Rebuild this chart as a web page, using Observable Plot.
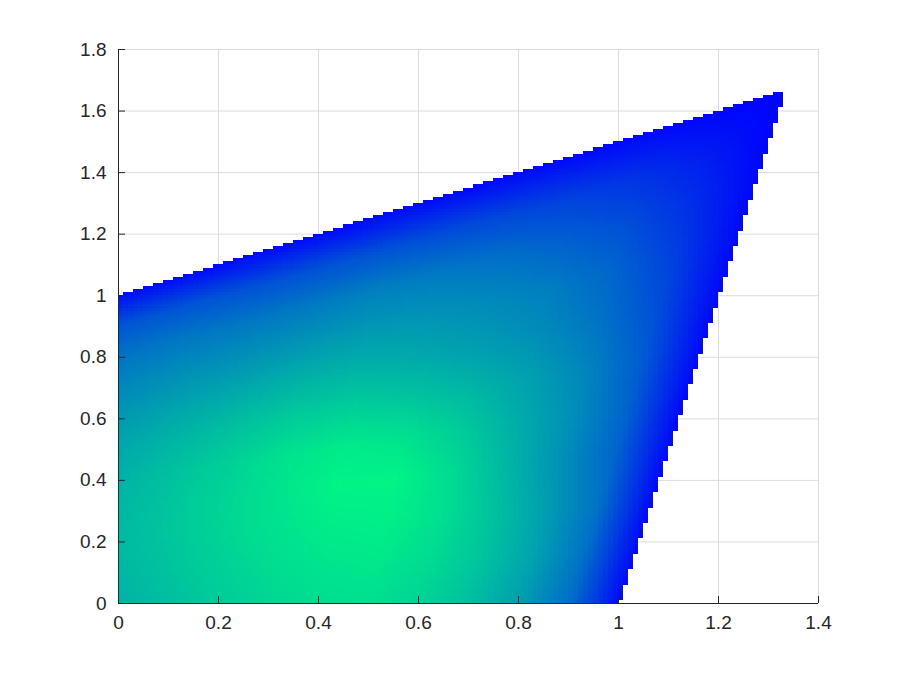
<!DOCTYPE html>
<html>
<head>
<meta charset="utf-8">
<script src="https://cdn.jsdelivr.net/npm/d3@7"></script>
<script src="https://cdn.jsdelivr.net/npm/@observablehq/plot@0.6"></script>
<style>
  body { margin: 0; background: #fff; }
  #chart svg { display: block; }
</style>
</head>
<body>
<div id="chart"></div>
<script>
// Tick labels
const xTicks = [0, 0.2, 0.4, 0.6, 0.8, 1, 1.2, 1.4];
const yTicks = [0, 0.2, 0.4, 0.6, 0.8, 1, 1.2, 1.4, 1.6, 1.8];

// Corners of the plotted quadrilateral domain (x, y), counter-clockwise
const cornerX = [0, 1, 1.33, 0];
const cornerY = [0, 0, 1.66, 1];

// Grid spacing of the surface cells (data units)
const cellStep = 0.01;

// Sampled colour values (0 = blue, 1 = green) read from the picture,
// on the domain's own coordinates: columns u = 0..1 (left edge -> right edge),
// one array per row v = 0..1 (bottom edge -> top edge)
const uLevels = [0, 0.1, 0.2, 0.3, 0.4, 0.5, 0.6, 0.7, 0.8, 0.9, 1];
const vLevels = [0, 0.1, 0.2, 0.3, 0.4, 0.5, 0.6, 0.7, 0.8, 0.9, 1];
const tV00 = [0.70, 0.75, 0.80, 0.84, 0.87, 0.88, 0.83, 0.75, 0.62, 0.43, 0.03];
const tV01 = [0.72, 0.77, 0.82, 0.87, 0.90, 0.91, 0.86, 0.77, 0.64, 0.44, 0.03];
const tV02 = [0.73, 0.78, 0.84, 0.89, 0.93, 0.94, 0.88, 0.76, 0.62, 0.44, 0.03];
const tV03 = [0.72, 0.78, 0.84, 0.90, 0.96, 0.96, 0.86, 0.72, 0.57, 0.40, 0.03];
const tV04 = [0.70, 0.76, 0.82, 0.89, 0.92, 0.89, 0.80, 0.68, 0.56, 0.38, 0.03];
const tV05 = [0.66, 0.71, 0.76, 0.80, 0.81, 0.77, 0.71, 0.63, 0.52, 0.35, 0.03];
const tV06 = [0.60, 0.64, 0.67, 0.70, 0.70, 0.66, 0.61, 0.55, 0.45, 0.30, 0.03];
const tV07 = [0.53, 0.56, 0.57, 0.59, 0.60, 0.58, 0.54, 0.49, 0.40, 0.25, 0.03];
const tV08 = [0.45, 0.47, 0.47, 0.48, 0.50, 0.48, 0.44, 0.38, 0.31, 0.19, 0.03];
const tV09 = [0.33, 0.33, 0.32, 0.32, 0.32, 0.30, 0.28, 0.25, 0.20, 0.12, 0.02];
const tV10 = [0.03, 0.03, 0.03, 0.03, 0.03, 0.03, 0.03, 0.03, 0.03, 0.02, 0.02];

const tRows = [tV00, tV01, tV02, tV03, tV04, tV05, tV06, tV07, tV08, tV09, tV10];

// Map (x, y) back to the domain's (u, v) coordinates (bilinear quadrilateral)
const ax = cornerX[2] - cornerX[1]; // extra x at top-right vs bottom-right
const cy = cornerY[2] - cornerY[3]; // extra y at top-right vs top-left
function toUV(x, y) {
  const a = ax / cornerY[3];
  const B = 1 + cy * x - a * y;
  const v = (-B + Math.sqrt(B * B + 4 * a * y)) / (2 * a);
  const u = x / (cornerX[1] + a * v);
  return [u, v];
}
function sample(u, v) {
  const n = uLevels.length - 1, m = vLevels.length - 1;
  const fu = u * n, fv = v * m;
  const i = Math.min(Math.floor(fu), n - 1), j = Math.min(Math.floor(fv), m - 1);
  const du = fu - i, dv = fv - j;
  const r0 = tRows[j], r1 = tRows[j + 1];
  return (1 - du) * (1 - dv) * r0[i] + du * (1 - dv) * r0[i + 1] +
         (1 - du) * dv * r1[i] + du * dv * r1[i + 1];
}

const cells = [];
const nx = Math.round(d3.max(cornerX) / cellStep) + 1;
const ny = Math.round(d3.max(cornerY) / cellStep) + 1;
for (let i = 0; i < nx; i++) {
  for (let j = 0; j < ny; j++) {
    const x = i / 100, y = j / 100;
    const [u, v] = toUV(x, y);
    if (u >= 0 && u < 1 - 1e-9 && v >= 0 && v < 1 - 1e-9) {
      cells.push({x1: x, x2: x + cellStep, y1: y, y2: y + cellStep, t: sample(u, v)});
    }
  }
}

const W = 904, H = 677;
const mL = 118, mR = 86, mT = 49, mB = 74;
const frameW = W - mL - mR, frameH = H - mT - mB;
const tickLen = 7;
const ink = "#262626";

const chart = Plot.plot({
  width: W,
  height: H,
  marginLeft: mL,
  marginRight: mR,
  marginTop: mT,
  marginBottom: mB,
  x: {domain: [0, 1.4]},
  y: {domain: [0, 1.8]},
  color: {type: "linear", domain: [0, 1], range: ["#0000ff", "#00ff80"], interpolate: "rgb"},
  style: {fontFamily: "'Liberation Sans', Arial, Helvetica, sans-serif", fontSize: "19px", color: ink, background: "#fff"},
  marks: [
    Plot.gridX(xTicks, {stroke: "#dcdcdc", strokeOpacity: 1, strokeWidth: 1}),
    Plot.gridY(yTicks, {stroke: "#dcdcdc", strokeOpacity: 1, strokeWidth: 1}),
    Plot.rect(cells, {x1: "x1", x2: "x2", y1: "y1", y2: "y2", fill: "t",
      shapeRendering: "crispEdges"}),
    Plot.ruleX([0], {stroke: ink, strokeWidth: 1}),
    Plot.ruleY([0], {stroke: ink, strokeWidth: 1}),
    Plot.tickX(xTicks, {x: d => d, stroke: ink, insetTop: frameH - tickLen}),
    Plot.tickY(yTicks, {y: d => d, stroke: ink, insetRight: frameW - tickLen}),
    Plot.axisX(xTicks, {tickSize: 0, tickPadding: 12, tickFormat: d => String(d), fontSize: 19, fill: ink}),
    Plot.axisY(yTicks, {tickSize: 0, tickPadding: 12, tickFormat: d => String(d), fontSize: 19, fill: ink})
  ]
});
document.getElementById("chart").appendChild(chart);
</script>
</body>
</html>
